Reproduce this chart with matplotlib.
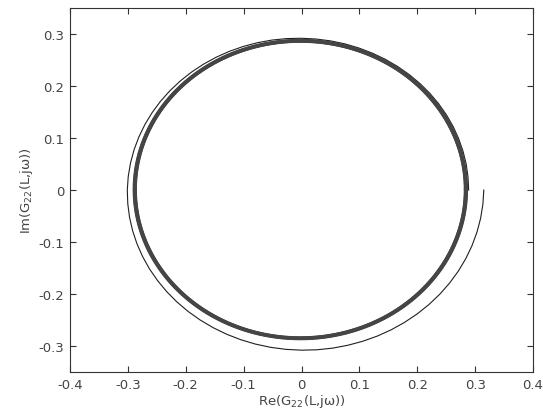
import numpy as np
import matplotlib
matplotlib.use('Agg')
from matplotlib import pyplot as plt

# outer spiral: radius read every 5 degrees, clockwise from the start point (0.315, 0)
spiral_deg = np.arange(0, -365, -5)
spiral_r = [0.3150, 0.3146, 0.3142, 0.3138, 0.3134, 0.3130, 0.3126, 0.3122, 0.3118, 0.3114,
            0.3110, 0.3106, 0.3103, 0.3099, 0.3095, 0.3091, 0.3088, 0.3084, 0.3080, 0.3076,
            0.3072, 0.3068, 0.3064, 0.3060, 0.3056, 0.3052, 0.3048, 0.3044, 0.3040, 0.3036,
            0.3033, 0.3029, 0.3025, 0.3021, 0.3017, 0.3013, 0.3010, 0.3005, 0.3000, 0.2995,
            0.2990, 0.2985, 0.2980, 0.2975, 0.2970, 0.2965, 0.2960, 0.2955, 0.2950, 0.2945,
            0.2940, 0.2935, 0.2930, 0.2925, 0.2920, 0.2916, 0.2913, 0.2910, 0.2907, 0.2904,
            0.2902, 0.2900, 0.2898, 0.2896, 0.2895, 0.2893, 0.2892, 0.2891, 0.2890, 0.2889,
            0.2889, 0.2888, 0.2888]

# the thick ring: later turns, radius per turn and centre of the ring
ring_r = [0.2886, 0.2880, 0.2874, 0.2868, 0.2862, 0.2856, 0.2850, 0.2845, 0.2840, 0.2836]
ring_cx, ring_cy = -0.002, 0.001

xticks = [-0.4, -0.3, -0.2, -0.1, 0, 0.1, 0.2, 0.3, 0.4]
xticklabels = ['-0.4', '-0.3', '-0.2', '-0.1', '0', '0.1', '0.2', '0.3', '0.4']
yticks = [-0.3, -0.2, -0.1, 0, 0.1, 0.2, 0.3]
yticklabels = ['-0.3', '-0.2', '-0.1', '0', '0.1', '0.2', '0.3']

plt.rcParams['font.family'] = ['DejaVu Sans']
txt = '#444444'

fig = plt.figure(figsize=(5.43, 4.14), dpi=100)
ax = fig.add_axes([0.1289, 0.099, 0.8527, 0.879])

th = np.deg2rad(spiral_deg)
r = np.array(spiral_r)
ax.plot(r * np.cos(th), r * np.sin(th), color='#202020', lw=0.8)

a = np.linspace(0, -2 * np.pi, 361)
for rr in ring_r:
    ax.plot(ring_cx + rr * np.cos(a), ring_cy + rr * np.sin(a), color='#454545', lw=1.0)

ax.set_xlim(-0.4, 0.4)
ax.set_ylim(-0.35, 0.35)
ax.set_xticks(xticks)
ax.set_xticklabels(xticklabels)
ax.set_yticks(yticks)
ax.set_yticklabels(yticklabels)
ax.tick_params(direction='in', top=True, right=True, length=4, width=0.8,
               labelsize=9.5, colors='#333333', labelcolor=txt, pad=4)
for s in ax.spines.values():
    s.set_color('#333333')
    s.set_linewidth(0.8)

ax.set_xlabel('Re(G$_{22}$(L,j\u03c9))', fontsize=9.5, color=txt, labelpad=1)
ax.set_ylabel('Im(G$_{22}$(L,j\u03c9))', fontsize=9.5, color=txt, labelpad=3)

fig.savefig('out.png', dpi=100)
